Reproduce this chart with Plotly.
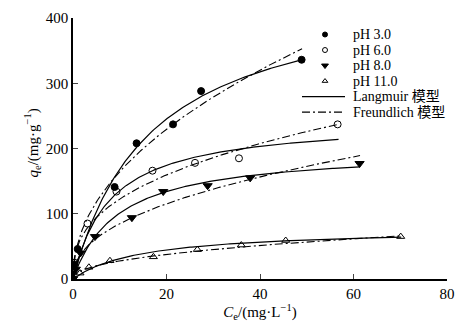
import numpy as np
import plotly.graph_objects as go

# Experimental data (Ce in mg/L, qe in mg/g)
ph3_x = [0.0, 0.2, 1.0, 8.9, 13.6, 21.4, 27.4, 48.9]
ph3_y = [0, 22, 46, 141, 208, 237, 288, 336]
ph6_x = [0.0, 0.3, 3.1, 9.3, 17.0, 26.1, 35.5, 56.6]
ph6_y = [0, 25, 85, 134, 166, 178, 185, 237]
ph8_x = [0.0, 0.6, 1.6, 4.7, 12.6, 19.3, 28.8, 37.9, 61.3]
ph8_y = [0, 15, 40, 65, 94, 134, 143, 155, 177]
ph11_x = [0.0, 1.5, 3.4, 7.9, 17.2, 26.6, 36.0, 45.5, 70.1]
ph11_y = [0, 9, 18, 28, 34, 45, 52, 59, 65]

series_names = ["pH 3.0", "pH 6.0", "pH 8.0", "pH 11.0"]
model_names = ["Langmuir 模型", "Freundlich 模型"]
# Fitted model parameters
langmuir_qm = [451, 244, 199, 77.5]
langmuir_K = [0.0596, 0.125, 0.1032, 0.0677]
freund_Kf = [54.5, 51.1, 30.7, 9.96]
freund_n_inv = [0.48, 0.38, 0.4416, 0.445]
curve_xmax = [49.0, 56.8, 61.4, 70.2]

x_ticks = [0, 20, 40, 60, 80]
y_ticks = [0, 100, 200, 300, 400]

FONT = "Liberation Serif, Times New Roman, Noto Sans CJK SC, serif"
W, H = 473, 326
ML, MR, MT, MB = 73, 26, 10, 47

fig = go.Figure()

markers = [
    dict(symbol="circle", color="black", size=7, line=dict(color="black", width=1)),
    dict(symbol="circle-open", color="black", size=7, line=dict(color="black", width=1)),
    dict(symbol="triangle-down", color="black", size=8, line=dict(color="black", width=1)),
    dict(symbol="triangle-up-open", color="black", size=7, line=dict(color="black", width=1)),
]
datasets = [(ph3_x, ph3_y), (ph6_x, ph6_y), (ph8_x, ph8_y), (ph11_x, ph11_y)]

for i in range(4):
    c = np.linspace(0, curve_xmax[i], 200)
    ql = langmuir_qm[i] * langmuir_K[i] * c / (1 + langmuir_K[i] * c)
    qf = freund_Kf[i] * np.power(c, freund_n_inv[i])
    fig.add_trace(go.Scatter(x=c, y=ql, mode="lines", name=model_names[0],
                             line=dict(color="black", width=1.2), hoverinfo="skip"))
    fig.add_trace(go.Scatter(x=c, y=qf, mode="lines", name=model_names[1],
                             line=dict(color="black", width=1.1, dash="8px,3px,2px,3px"),
                             hoverinfo="skip"))

for i, ((xs, ys), name) in enumerate(zip(datasets, series_names)):
    fig.add_trace(go.Scatter(x=xs, y=ys, mode="markers", name=name, marker=markers[i]))

# ---- Manual compact legend (pixel coordinates on an overlay axis) ----
leg_row0, leg_dy = 27, 16
leg_sym_x, leg_text_x = 325, 352
leg_line_x0, leg_line_x1 = 302, 345
LEG_FS = 14
for i, name in enumerate(series_names):
    yy = leg_row0 + i * leg_dy
    m = dict(markers[i])
    m["size"] = m["size"] - 2
    fig.add_trace(go.Scatter(x=[leg_sym_x], y=[yy], mode="markers", marker=m,
                             xaxis="x2", yaxis="y2", hoverinfo="skip"))
    fig.add_annotation(x=leg_text_x, y=yy, xref="x2", yref="y2", text=name,
                       showarrow=False, xanchor="left", yanchor="middle",
                       font=dict(family=FONT, size=LEG_FS), borderpad=0)
for j, name in enumerate(model_names):
    yy = leg_row0 + (4 + j) * leg_dy
    fig.add_trace(go.Scatter(x=[leg_line_x0, leg_line_x1], y=[yy, yy], mode="lines",
                             line=dict(color="black", width=1.2,
                                       dash="solid" if j == 0 else "8px,3px,2px,3px"),
                             xaxis="x2", yaxis="y2", hoverinfo="skip"))
    fig.add_annotation(x=leg_text_x, y=yy, xref="x2", yref="y2", text=name,
                       showarrow=False, xanchor="left", yanchor="middle",
                       font=dict(family=FONT, size=LEG_FS), borderpad=0)

# y-axis title as rotated annotation (positioned like the reference)
fig.add_annotation(x=0, y=0.5, xref="paper", yref="paper", xanchor="center",
                   yanchor="middle", xshift=-41, yshift=5, textangle=-90,
                   showarrow=False, text="<i>q</i><sub>e</sub>/(mg·g<sup>−1</sup>)",
                   font=dict(family=FONT, size=15))

fig.update_layout(
    width=W, height=H,
    margin=dict(l=ML, r=MR, t=MT, b=MB),
    paper_bgcolor="white", plot_bgcolor="white",
    font=dict(family=FONT, size=15, color="black"),
    showlegend=False,
    xaxis2=dict(overlaying="x", range=[ML, W - MR], visible=False, fixedrange=True),
    yaxis2=dict(overlaying="y", range=[H - MB, MT], visible=False, fixedrange=True),
    xaxis=dict(range=[0, 80], tickvals=x_ticks, ticks="inside", ticklen=5,
               showline=True, linecolor="black", linewidth=1.5, showgrid=False,
               zeroline=False, mirror=False,
               title=dict(text="<i>C</i><sub>e</sub>/(mg·L<sup>−1</sup>)", standoff=4,
                          font=dict(family=FONT, size=15))),
    yaxis=dict(range=[0, 400], tickvals=y_ticks, ticks="inside", ticklen=5,
               showline=True, linecolor="black", linewidth=1.5, showgrid=False,
               zeroline=False, mirror=False),
)

fig.write_html("out.html")
